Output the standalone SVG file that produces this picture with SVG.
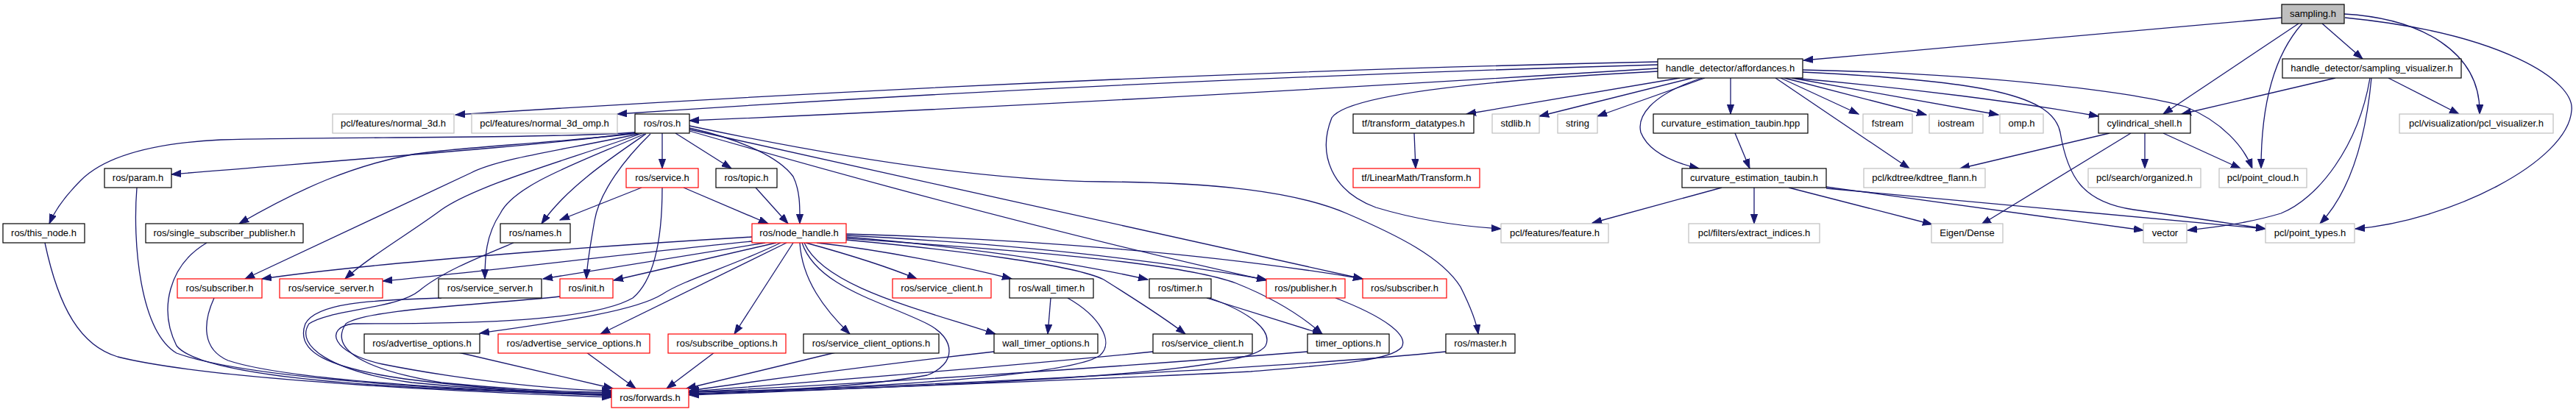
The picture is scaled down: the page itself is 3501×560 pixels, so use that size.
<svg xmlns="http://www.w3.org/2000/svg" width="3501" height="560" viewBox="0 0 3501 560">
<style>
rect{fill:#fff;stroke-width:1.2}
.b{stroke:#000}
.g{stroke:#bfbfbf}
.r{stroke:#ff0000}
.root{fill:#bfbfbf;stroke:#000}
text{font-family:"Liberation Sans",Arial,sans-serif;font-size:13px;fill:#000;text-anchor:middle}
#edges path{fill:none;stroke:#191970;stroke-width:1.3;marker-end:url(#arr)}
</style>
<defs>
<marker id="arr" markerWidth="14" markerHeight="10" refX="13" refY="5" orient="auto" markerUnits="userSpaceOnUse">
<path d="M0,0.4 L13,5 L0,9.6 z" fill="#191970" stroke="#191970" stroke-width="1"/>
</marker>
</defs>
<rect x="0" y="0" width="3501" height="560" style="fill:#fff;stroke:none"/>
<g id="edges">
<path d="M3101,24 L2451,82"/>
<path d="M3156,32 L3211,80"/>
<path d="M3124,32 L2940,155"/>
<path d="M3129,32 C3095,70 3073,130 3073,229"/>
<path d="M3186,19 C3290,25 3372,70 3370,155"/>
<path d="M3187,24 C3400,45 3500,110 3495,150 C3490,220 3330,300 3201,311"/>
<path d="M3174,106 L2965,155"/>
<path d="M3246,106 L3342,155"/>
<path d="M3221,106 C3205,200 3150,270 3100,290 C3050,305 3000,310 2973,313"/>
<path d="M3223,106 C3215,190 3195,260 3153,304"/>
<path d="M2253,84 Q1500,100 619,156"/>
<path d="M2253,88 Q1500,110 839,155"/>
<path d="M2253,93 Q1500,140 937,164"/>
<path d="M2253,97 C2000,110 1830,130 1810,160 C1790,210 1810,260 1870,282 C1930,300 1990,308 2040,311"/>
<path d="M2283,106 L1993,155"/>
<path d="M2300,106 L2092,158"/>
<path d="M2317,106 L2171,158"/>
<path d="M2352,106 L2352,155"/>
<path d="M2313,106 C2240,130 2225,160 2230,180 C2240,205 2270,220 2309,229"/>
<path d="M2420,106 L2526,155"/>
<path d="M2425,106 L2618,156"/>
<path d="M2435,106 L2716,156"/>
<path d="M2436,106 C2600,120 2750,140 2852,158"/>
<path d="M2413,106 L2595,229"/>
<path d="M2450,95 C2700,100 2900,125 2970,145 C3020,165 3050,200 3061,229"/>
<path d="M2450,98 C2700,110 2790,130 2800,180 C2810,240 2830,275 2900,285 C2980,296 3040,305 3079,311"/>
<path d="M2867,181 L2664,229"/>
<path d="M2915,181 L2915,229"/>
<path d="M2940,181 L3045,229"/>
<path d="M2896,181 L2693,305"/>
<path d="M2358,181 L2378,229"/>
<path d="M1922,181 L1924,229"/>
<path d="M2340,255 L2164,303"/>
<path d="M2384,255 L2384,304"/>
<path d="M2431,255 L2626,305"/>
<path d="M2482,254 L2913,313"/>
<path d="M2482,256 C2700,275 2900,293 3079,311"/>
<path d="M863,180 C750,188 450,186 300,190 C200,195 140,215 110,245 C90,265 75,285 67,304"/>
<path d="M865,180 C760,196 500,215 233,237"/>
<path d="M866,181 C750,195 620,200 560,210 C480,225 410,255 325,304"/>
<path d="M868,182 C760,205 680,215 640,235 L333,379"/>
<path d="M873,181 C780,215 650,250 600,285 C560,315 500,350 469,379"/>
<path d="M876,182 C790,220 700,250 680,290 C660,320 659,350 659,379"/>
<path d="M878,182 C830,215 770,255 736,304"/>
<path d="M884,182 C850,215 815,260 808,300 C803,330 798,355 797,379"/>
<path d="M900,181 L900,229"/>
<path d="M918,181 L994,229"/>
<path d="M937,174 C1010,190 1060,215 1078,240 C1088,260 1087,285 1087,304"/>
<path d="M937,171 C1050,195 1300,245 1500,247 C1650,248 1760,260 1830,290 C1900,320 1960,350 1985,390 C2000,420 2007,440 2009,454"/>
<path d="M937,178 C1100,225 1400,310 1721,381"/>
<path d="M937,176 L1852,379"/>
<path d="M872,255 L761,299"/>
<path d="M929,255 L1044,304"/>
<path d="M1027,255 L1071,304"/>
<path d="M900,255 C900,320 890,380 860,405 C800,440 600,440 480,440 C440,445 450,480 520,495 C620,515 750,530 831,531"/>
<path d="M1022,322 C800,335 500,358 356,379"/>
<path d="M1022,328 C850,345 650,370 520,382"/>
<path d="M1040,330 L738,379"/>
<path d="M1055,330 L834,381"/>
<path d="M1061,330 C1000,360 930,380 900,400 C860,425 740,440 652,453"/>
<path d="M1069,330 L816,454"/>
<path d="M1078,330 L998,454"/>
<path d="M1087,330 C1090,380 1120,420 1155,454"/>
<path d="M1095,330 C1150,345 1200,360 1246,379"/>
<path d="M1110,330 C1200,340 1300,360 1375,379"/>
<path d="M1093,330 C1120,390 1250,420 1353,454"/>
<path d="M1090,330 C1110,390 1200,410 1260,440 C1300,460 1300,495 1260,510 C1150,530 1000,532 936,533"/>
<path d="M1150,322 C1300,335 1450,355 1560,380"/>
<path d="M1150,320 C1350,330 1550,350 1721,380"/>
<path d="M1150,318 C1400,325 1650,345 1852,379"/>
<path d="M1150,326 C1300,340 1460,360 1500,380 C1540,405 1580,430 1611,454"/>
<path d="M1150,324 C1350,338 1600,355 1680,385 C1730,405 1770,430 1797,454"/>
<path d="M1428,405 L1424,454"/>
<path d="M1451,405 C1495,430 1515,465 1495,483 C1450,515 1100,530 937,535"/>
<path d="M1640,405 L1797,454"/>
<path d="M1644,405 C1700,425 1730,450 1720,470 C1700,505 1400,520 937,537"/>
<path d="M1815,405 C1880,430 1915,455 1905,472 C1890,490 1820,495 1700,505 C1400,520 1100,530 937,536"/>
<path d="M1965,478 C1800,495 1300,525 937,533"/>
<path d="M1777,478 C1500,500 1200,520 937,533"/>
<path d="M1567,478 C1400,495 1100,520 937,532"/>
<path d="M1351,478 C1200,495 1050,515 937,531"/>
<path d="M1136,479 L933,528"/>
<path d="M971,479 L906,528"/>
<path d="M797,479 L864,528"/>
<path d="M623,479 L833,528"/>
<path d="M61,330 C80,420 110,470 160,485 C300,520 700,535 831,540"/>
<path d="M186,255 C180,330 190,450 240,480 C350,520 700,533 831,538"/>
<path d="M281,330 C230,360 215,420 240,470 C280,520 600,530 831,537"/>
<path d="M291,405 C275,440 275,475 310,490 C400,520 700,533 831,536"/>
<path d="M600,405 C500,408 430,412 415,440 C400,480 450,500 550,515 C650,528 760,535 831,537"/>
<path d="M698,330 C650,350 600,370 570,395 C540,420 450,420 420,440 C400,470 450,505 560,520 C680,532 780,534 831,534"/>
<path d="M761,403 C650,415 500,420 470,440 C450,470 480,500 600,520 C700,530 780,533 831,533"/>
</g>
<g id="n_sampling"><rect class="root" x="3101" y="6" width="85" height="26"/><text x="3143.5" y="23">sampling.h</text></g>
<g id="n_afford"><rect class="b" x="2253" y="80" width="197" height="26"/><text x="2351.5" y="97">handle_detector/affordances.h</text></g>
<g id="n_samvis"><rect class="b" x="3102" y="80" width="243" height="26"/><text x="3223.5" y="97">handle_detector/sampling_visualizer.h</text></g>
<g id="n_normal3d"><rect class="g" x="452" y="155" width="165" height="26"/><text x="534.5" y="172">pcl/features/normal_3d.h</text></g>
<g id="n_normal3domp"><rect class="g" x="641" y="155" width="198" height="26"/><text x="740" y="172">pcl/features/normal_3d_omp.h</text></g>
<g id="n_ros"><rect class="b" x="863" y="155" width="74" height="26"/><text x="900" y="172">ros/ros.h</text></g>
<g id="n_tfdt"><rect class="b" x="1839" y="155" width="164" height="26"/><text x="1921" y="172">tf/transform_datatypes.h</text></g>
<g id="n_stdlib"><rect class="g" x="2028" y="155" width="64" height="26"/><text x="2060" y="172">stdlib.h</text></g>
<g id="n_string"><rect class="g" x="2117" y="155" width="54" height="26"/><text x="2144" y="172">string</text></g>
<g id="n_cethpp"><rect class="b" x="2247" y="155" width="210" height="26"/><text x="2352" y="172">curvature_estimation_taubin.hpp</text></g>
<g id="n_fstream"><rect class="g" x="2532" y="155" width="67" height="26"/><text x="2565.5" y="172">fstream</text></g>
<g id="n_iostream"><rect class="g" x="2622" y="155" width="73" height="26"/><text x="2658.5" y="172">iostream</text></g>
<g id="n_omp"><rect class="g" x="2718" y="155" width="59" height="26"/><text x="2747.5" y="172">omp.h</text></g>
<g id="n_cyl"><rect class="b" x="2852" y="155" width="125" height="26"/><text x="2914.5" y="172">cylindrical_shell.h</text></g>
<g id="n_pclvis"><rect class="g" x="3261" y="155" width="209" height="26"/><text x="3365.5" y="172">pcl/visualization/pcl_visualizer.h</text></g>
<g id="n_param"><rect class="b" x="142" y="229" width="91" height="26"/><text x="187.5" y="246">ros/param.h</text></g>
<g id="n_service"><rect class="r" x="851" y="229" width="98" height="26"/><text x="900" y="246">ros/service.h</text></g>
<g id="n_topic"><rect class="b" x="973" y="229" width="83" height="26"/><text x="1014.5" y="246">ros/topic.h</text></g>
<g id="n_tflm"><rect class="r" x="1839" y="229" width="172" height="26"/><text x="1925" y="246">tf/LinearMath/Transform.h</text></g>
<g id="n_ceth"><rect class="b" x="2286" y="229" width="196" height="26"/><text x="2384" y="246">curvature_estimation_taubin.h</text></g>
<g id="n_kdtree"><rect class="g" x="2533" y="229" width="165" height="26"/><text x="2615.5" y="246">pcl/kdtree/kdtree_flann.h</text></g>
<g id="n_organized"><rect class="g" x="2838" y="229" width="153" height="26"/><text x="2914.5" y="246">pcl/search/organized.h</text></g>
<g id="n_pointcloud"><rect class="g" x="3016" y="229" width="119" height="26"/><text x="3075.5" y="246">pcl/point_cloud.h</text></g>
<g id="n_thisnode"><rect class="b" x="4" y="304" width="111" height="26"/><text x="59.5" y="321">ros/this_node.h</text></g>
<g id="n_ssp"><rect class="b" x="198" y="304" width="214" height="26"/><text x="305" y="321">ros/single_subscriber_publisher.h</text></g>
<g id="n_names"><rect class="b" x="680" y="304" width="95" height="26"/><text x="727.5" y="321">ros/names.h</text></g>
<g id="n_nh"><rect class="r" x="1022" y="304" width="128" height="26"/><text x="1086" y="321">ros/node_handle.h</text></g>
<g id="n_feature"><rect class="g" x="2040" y="304" width="146" height="26"/><text x="2113" y="321">pcl/features/feature.h</text></g>
<g id="n_extract"><rect class="g" x="2295" y="304" width="178" height="26"/><text x="2384" y="321">pcl/filters/extract_indices.h</text></g>
<g id="n_eigen"><rect class="g" x="2625" y="304" width="97" height="26"/><text x="2673.5" y="321">Eigen/Dense</text></g>
<g id="n_vector"><rect class="g" x="2913" y="304" width="59" height="26"/><text x="2942.5" y="321">vector</text></g>
<g id="n_pointtypes"><rect class="g" x="3079" y="304" width="121" height="26"/><text x="3139.5" y="321">pcl/point_types.h</text></g>
<g id="n_sub1"><rect class="r" x="241" y="379" width="115" height="26"/><text x="298.5" y="396">ros/subscriber.h</text></g>
<g id="n_ss1"><rect class="r" x="380" y="379" width="140" height="26"/><text x="450" y="396">ros/service_server.h</text></g>
<g id="n_ss2"><rect class="b" x="596" y="379" width="140" height="26"/><text x="666" y="396">ros/service_server.h</text></g>
<g id="n_init"><rect class="r" x="761" y="379" width="72" height="26"/><text x="797" y="396">ros/init.h</text></g>
<g id="n_sc1"><rect class="r" x="1213" y="379" width="134" height="26"/><text x="1280" y="396">ros/service_client.h</text></g>
<g id="n_walltimer"><rect class="b" x="1372" y="379" width="114" height="26"/><text x="1429" y="396">ros/wall_timer.h</text></g>
<g id="n_timer"><rect class="b" x="1562" y="379" width="84" height="26"/><text x="1604" y="396">ros/timer.h</text></g>
<g id="n_pub"><rect class="r" x="1721" y="379" width="107" height="26"/><text x="1774.5" y="396">ros/publisher.h</text></g>
<g id="n_sub2"><rect class="r" x="1852" y="379" width="114" height="26"/><text x="1909" y="396">ros/subscriber.h</text></g>
<g id="n_advopt"><rect class="b" x="495" y="454" width="157" height="26"/><text x="573.5" y="471">ros/advertise_options.h</text></g>
<g id="n_advsrvopt"><rect class="r" x="677" y="454" width="206" height="26"/><text x="780" y="471">ros/advertise_service_options.h</text></g>
<g id="n_subopt"><rect class="r" x="908" y="454" width="160" height="26"/><text x="988" y="471">ros/subscribe_options.h</text></g>
<g id="n_scopt"><rect class="b" x="1092" y="454" width="184" height="26"/><text x="1184" y="471">ros/service_client_options.h</text></g>
<g id="n_wtopt"><rect class="b" x="1351" y="454" width="141" height="26"/><text x="1421.5" y="471">wall_timer_options.h</text></g>
<g id="n_sc2"><rect class="b" x="1567" y="454" width="135" height="26"/><text x="1634.5" y="471">ros/service_client.h</text></g>
<g id="n_topt"><rect class="b" x="1777" y="454" width="111" height="26"/><text x="1832.5" y="471">timer_options.h</text></g>
<g id="n_master"><rect class="b" x="1965" y="454" width="94" height="26"/><text x="2012" y="471">ros/master.h</text></g>
<g id="n_fwd"><rect class="r" x="831" y="528" width="105" height="26"/><text x="883.5" y="545">ros/forwards.h</text></g>
</svg>
